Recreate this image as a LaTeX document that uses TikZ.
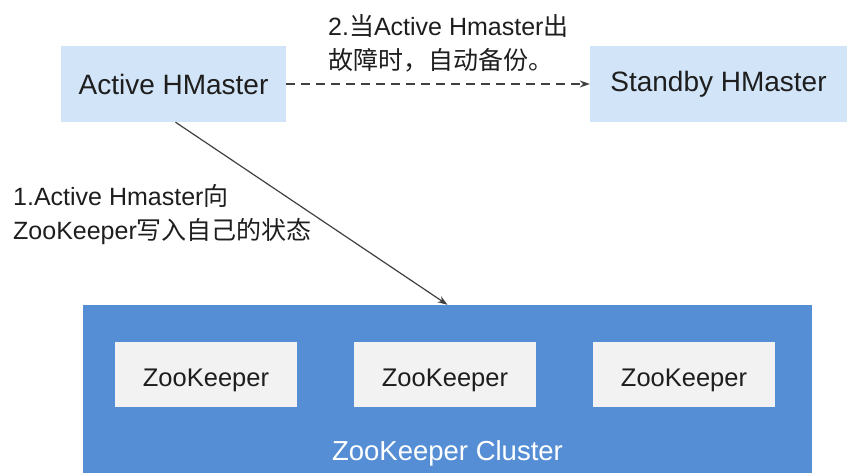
\documentclass[tikz,border=0pt]{standalone}
\usepackage{fontspec}
\setmainfont{Liberation Sans}
\newfontfamily\cjk{Noto Sans CJK SC}
\usetikzlibrary{arrows.meta,positioning}

\definecolor{masterfill}{RGB}{210,228,247}
\definecolor{clusterfill}{RGB}{85,142,213}
\definecolor{zkfill}{RGB}{242,242,242}
\definecolor{txt}{RGB}{30,30,30}
\definecolor{linegray}{RGB}{64,64,64}

\begin{document}
\begin{tikzpicture}[x=1pt,y=-1pt,
  master/.style={rectangle,fill=masterfill,text=txt,minimum height=76pt,inner sep=0pt,font=\fontsize{28}{34}\selectfont},
  zk/.style={rectangle,fill=zkfill,text=txt,minimum width=182pt,minimum height=65pt,inner sep=0pt,text height=23pt,text depth=0pt,font=\fontsize{25.5}{34}\selectfont},
  note/.style={anchor=west,align=left,inner sep=0pt,text=txt,font=\fontsize{25}{34}\selectfont},
  link/.style={-{Stealth[length=10pt,width=7pt]},draw=linegray,line width=1.2pt}]
  \useasboundingbox (0,0) rectangle (847,473);

  % Masters
  \node[master,minimum width=225pt] (act) at (173.5,84) {Active HMaster};
  \node[master,minimum width=257pt] (stb) at (718.5,84) {Standby HMaster};

  % Cluster
  \node[rectangle,fill=clusterfill,minimum width=729pt,minimum height=168pt,inner sep=0pt] (cluster) at (447.5,389) {};
  \node[zk] (zk1) at (206,374.5) {ZooKeeper};
  \node[zk] (zk2) at (445,374.5) {ZooKeeper};
  \node[zk] (zk3) at (684,374.5) {ZooKeeper};
  \node[text=white,inner sep=0pt,text depth=0pt,font=\fontsize{27.5}{34}\selectfont] (clname) at (447.5,451) {ZooKeeper Cluster};

  % Notes
  \node[note] (n2) at (328,43.5) {2.{\cjk 当}Active Hmaster{\cjk 出}\\{\cjk 故障时，自动备份。}};
  \node[note] (n1) at (13,214.5) {1.Active Hmaster{\cjk 向}\\ZooKeeper{\cjk 写入自己的状态}};

  % Arrows
  \draw[link,dash pattern=on 9pt off 6pt] (act) -- (stb);
  \draw[link] ([xshift=2pt]act.south) -- (cluster.north);
\end{tikzpicture}
\end{document}
